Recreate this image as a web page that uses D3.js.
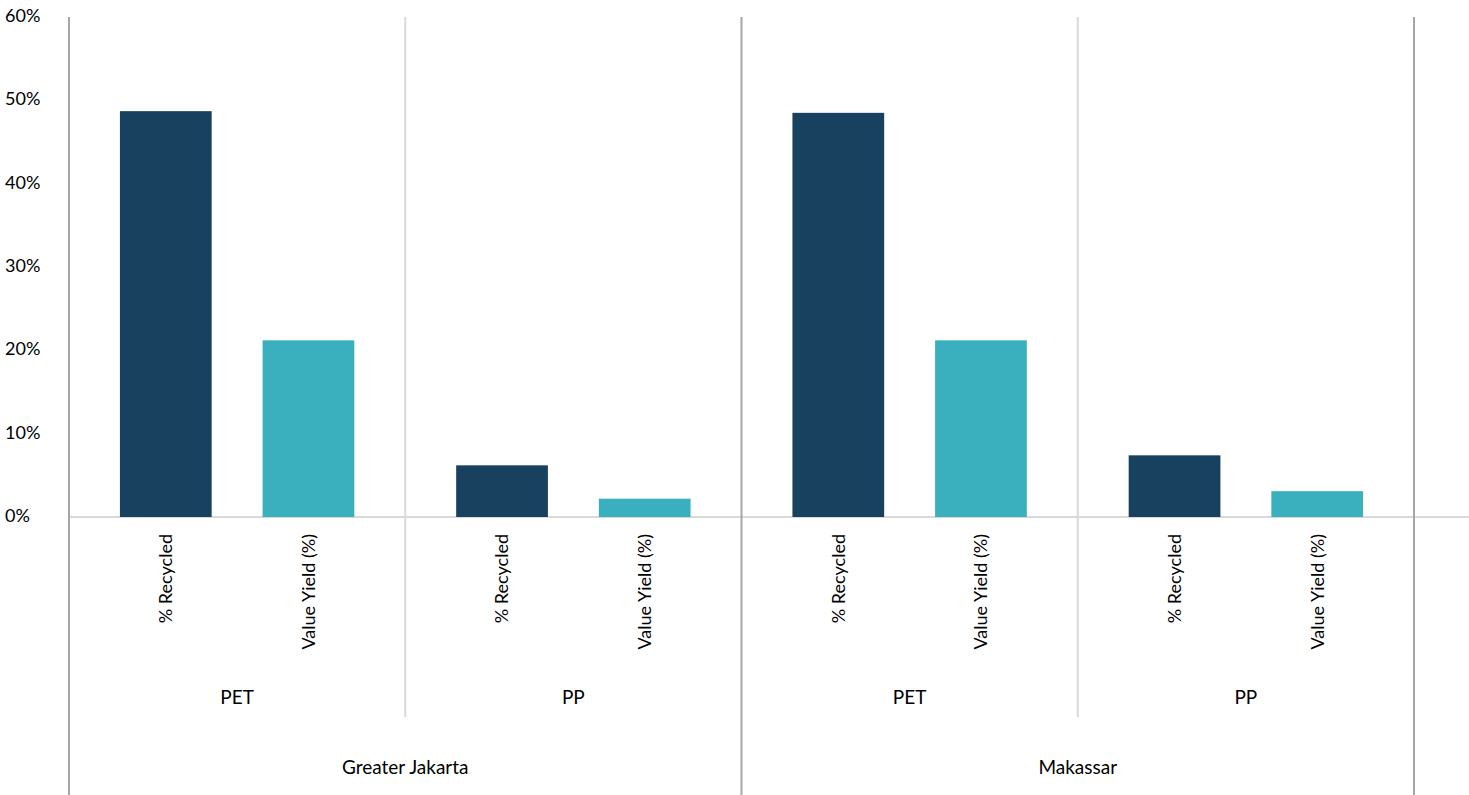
<!DOCTYPE html>
<html>
<head>
<meta charset="utf-8">
<script src="https://cdn.jsdelivr.net/npm/d3@7"></script>
<style>
  body { margin: 0; background: #fff; }
  text { font-family: Lato, "Open Sans", sans-serif; fill: #000; }
</style>
</head>
<body>
<div id="chart"></div>
<script>
// chart data
var regions = ["Greater Jakarta", "Makassar"]
var materials = ["PET", "PP"]
var metrics = ["% Recycled", "Value Yield (%)"]
var recycled = [0.487, 0.062, 0.485, 0.074]      // Jakarta PET, Jakarta PP, Makassar PET, Makassar PP
var valueYield = [0.212, 0.022, 0.212, 0.031]
var yTicks = [0, 0.1, 0.2, 0.3, 0.4, 0.5, 0.6]

var colors = ["#17415f", "#3ab0bf"]
var W = 1469, H = 795
var plotLeft = 69, plotRight = 1414, plotTop = 17, plotBase = 517

var svg = d3.select("#chart").append("svg")
    .attr("width", W).attr("height", H)

// groups = region x material
var groups = []
regions.forEach(function(r) {
  materials.forEach(function(m) { groups.push({region: r, material: m}) })
})
groups.forEach(function(g, i) {
  g.values = [recycled[i], valueYield[i]]
  g.key = g.region + "|" + g.material
})

var x0 = d3.scaleBand().domain(groups.map(function(d) { return d.key }))
    .range([plotLeft, plotRight])
var x1 = d3.scaleBand().domain(metrics).range([0, x0.bandwidth()]).padding(0.357)
var y = d3.scaleLinear().domain([0, 0.6]).range([plotBase, plotTop])

// y axis labels
var yAxis = svg.append("g").attr("transform", "translate(5,0)")
  .call(d3.axisLeft(y).tickValues(yTicks).tickFormat(d3.format(".0%")).tickSize(0))
yAxis.select(".domain").remove()
yAxis.selectAll("text")
  .attr("x", 0).attr("dy", "0.25em")
  .style("text-anchor", "start")
  .style("font-size", "18px")
  .style("font-family", "Lato, sans-serif")
  .attr("fill", "#000")

// baseline
svg.append("line")
  .attr("x1", plotLeft).attr("x2", W)
  .attr("y1", y(0)).attr("y2", y(0))
  .style("stroke", "#d9d9d9").style("stroke-width", "2px")

// bars
var g = svg.selectAll(".grp").data(groups).enter().append("g")
  .attr("transform", function(d) { return "translate(" + x0(d.key) + ",0)" })

g.selectAll("rect")
  .data(function(d) { return d.values.map(function(v, j) { return {metric: metrics[j], value: v, j: j} }) })
  .enter().append("rect")
    .attr("x", function(d) { return x1(d.metric) })
    .attr("y", function(d) { return y(d.value) })
    .attr("width", x1.bandwidth())
    .attr("height", function(d) { return y(0) - y(d.value) })
    .attr("fill", function(d) { return colors[d.j] })

// metric labels (rotated)
g.selectAll(".metric")
  .data(metrics).enter().append("text")
    .attr("transform", function(d) {
      return "translate(" + (x1(d) + x1.bandwidth() / 2) + ",534)rotate(-90)"
    })
    .attr("dy", "0.35em")
    .style("text-anchor", "end")
    .style("font-size", "18px")
    .text(function(d) { return d })

// material labels
g.append("text")
  .attr("x", x0.bandwidth() / 2).attr("y", 697)
  .attr("dy", "0.35em")
  .style("text-anchor", "middle")
  .style("font-size", "19px")
  .text(function(d) { return d.material })

// region labels
regions.forEach(function(r, i) {
  var a = x0(r + "|" + materials[0])
  var b = x0(r + "|" + materials[materials.length - 1]) + x0.bandwidth()
  svg.append("text")
    .attr("x", (a + b) / 2).attr("y", 767)
    .attr("dy", "0.35em")
    .style("text-anchor", "middle")
    .style("font-size", "19px")
    .text(r)
})

// dividers
for (var i = 0; i <= groups.length; i++) {
  var xx = i < groups.length ? x0(groups[i].key) : plotRight
  var major = (i % materials.length == 0)
  svg.append("line")
    .attr("x1", xx).attr("x2", xx)
    .attr("y1", plotTop).attr("y2", major ? H : 717)
    .style("stroke", major ? "#a6a6a6" : "#d9d9d9")
    .style("stroke-width", "2px")
}
</script>
</body>
</html>
